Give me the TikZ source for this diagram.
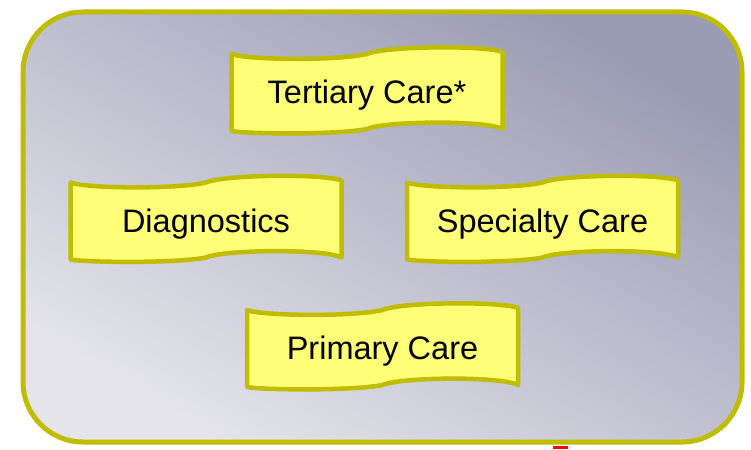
\documentclass[tikz,border=0pt]{standalone}
\usepackage{fontspec}
\setmainfont{Liberation Sans}
\usepackage{tikz}
\usetikzlibrary{positioning, backgrounds}
\definecolor{bandfill}{HTML}{FFFF77}
\definecolor{bandline}{HTML}{C0BC00}
\definecolor{paneldark}{HTML}{9A9CB4}
\definecolor{panellight}{HTML}{E4E4EA}
\tikzset{
    careband/.style={
        minimum width = 271pt,
        minimum height = 80pt,
        inner sep = 0pt,
        text height = 23.5pt, text depth = 0pt,
        font = \fontsize{32.5}{38}\selectfont
    },
    bandedge/.style = {draw = bandline, fill = bandfill, line width = 4.5pt, line join = round},
    panel/.style = {draw = bandline, line width = 5pt, rounded corners = 60pt,
        top color = paneldark, bottom color = panellight, shading angle = -30}
}
% wavy banner behind a named node
\newcommand{\carebanner}[1]{%
    \path[bandedge, shift={(#1.center)}]
        (-135.5,-38) .. controls (-120,-32) and (-30,-31) .. (0,-38)
        .. controls (18,-46) and (118,-47) .. (135.5,-40)
        -- (135.5,37)
        .. controls (118,28) and (18,29) .. (0,37)
        .. controls (-30,43) and (-120,42) .. (-135.5,39)
        -- cycle;}
\begin{document}
\begin{tikzpicture}[x=1pt, y=-1pt]

    \useasboundingbox (0,0) rectangle (751,449);

    \node[careband] (tertiary) at (367,92) {Tertiary Care*};
    \node[careband] (diagnostics) at (206,220.5) {Diagnostics};
    \node[careband, right = 0pt of diagnostics.center, xshift = 336.5pt, anchor = center] (specialty) {Specialty Care};
    \node[careband] (primary) at (382.5,348) {Primary Care};

    \begin{scope}[on background layer]
        \path[panel] (23,12) rectangle (742,442);
        \carebanner{tertiary}
        \carebanner{diagnostics}
        \carebanner{specialty}
        \carebanner{primary}
    \end{scope}
    \fill[red] (553,446) rectangle (568,449);

\end{tikzpicture}
\end{document}
